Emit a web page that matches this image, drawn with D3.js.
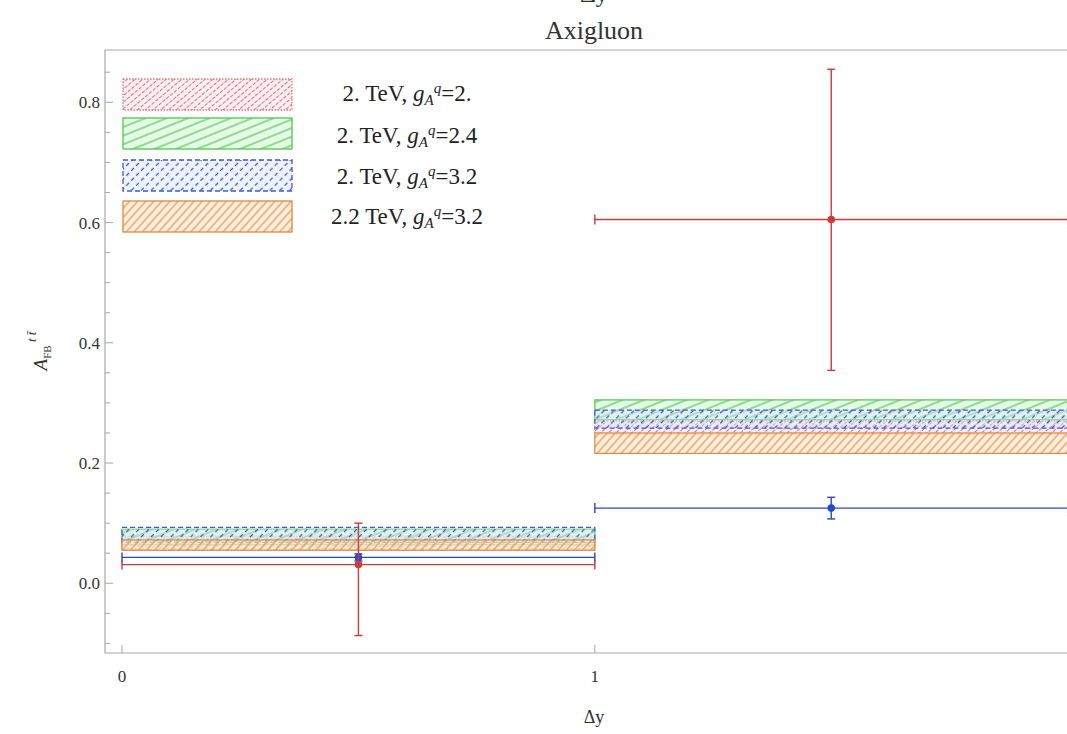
<!DOCTYPE html>
<html><head><meta charset="utf-8">
<script src="https://cdn.jsdelivr.net/npm/d3@7"></script>
<style>
body{margin:0;background:#fff;}
svg text{font-family:"Liberation Serif","Times New Roman","DejaVu Serif",serif;}
</style></head>
<body><svg id="c" width="1067" height="734" font-family="Liberation Serif, serif"></svg>
<script>
// ---- data ----
const binStart = [0, 1];
const binEnd = [1, 2];
const seriesMass = ["2.", "2.", "2.", "2.2"];
const seriesCoupling = ["2.", "2.4", "3.2", "3.2"];
// band low / high values per bin
const pinkLo = [0.055, 0.248];
const pinkHi = [0.078, 0.270];
const greenLo = [0.064, 0.272];
const greenHi = [0.090, 0.305];
const blueLo = [0.068, 0.258];
const blueHi = [0.093, 0.288];
const orangeLo = [0.055, 0.216];
const orangeHi = [0.072, 0.250];
// measured points
const pointX = [0.5, 1.5];
const redY = [0.031, 0.605];
const redLo = [-0.087, 0.354];
const redHi = [0.100, 0.855];
const blueY = [0.043, 0.125];
const blueErrLo = [0.037, 0.107];
const blueErrHi = [0.049, 0.143];
const yTicks = [0.0, 0.2, 0.4, 0.6, 0.8];
const yMinorTicks = [-0.1, -0.05, 0.05, 0.1, 0.15, 0.25, 0.3, 0.35, 0.45, 0.5, 0.55, 0.65, 0.7, 0.75, 0.85];
const xTicks = [0, 1];

// ---- setup ----
const svg = d3.select("#c");
const x = d3.scaleLinear().domain([-0.036, 2.06]).range([105, 1096]);
const y = d3.scaleLinear().domain([-0.116, 0.887]).range([653, 50]);

const defs = svg.append("defs");
function hatch(id, color, bg, spacing, angle, sw, dash) {
  const p = defs.append("pattern").attr("id", id).attr("patternUnits", "userSpaceOnUse")
    .attr("width", spacing).attr("height", spacing)
    .attr("patternTransform", `rotate(${angle})`);
  p.append("rect").attr("width", spacing).attr("height", spacing).attr("fill", bg);
  const l = p.append("line").attr("x1", 0).attr("y1", spacing / 2).attr("x2", spacing).attr("y2", spacing / 2)
    .attr("stroke", color).attr("stroke-width", sw);
  if (dash) l.attr("stroke-dasharray", dash);
}
hatch("hPink", "#d9707a", "rgba(250,225,235,0.55)", 5, -40, 1.1, "2.5,1.5");
hatch("hGreen", "#4ec94e", "rgba(215,245,215,0.6)", 8, -22, 1.2, null);
hatch("hBlue", "#3a5bd0", "rgba(220,228,250,0.45)", 7, -45, 1.3, "4,3");
hatch("hOrange", "#e08a3c", "rgba(252,232,210,0.7)", 6, -48, 1.1, null);

const series = [
  {lo: pinkLo, hi: pinkHi, fill: "url(#hPink)", stroke: "#e07a82", dash: "1.5,1.5"},
  {lo: greenLo, hi: greenHi, fill: "url(#hGreen)", stroke: "#4ec94e", dash: null},
  {lo: blueLo, hi: blueHi, fill: "url(#hBlue)", stroke: "#3a5bd0", dash: "5,3"},
  {lo: orangeLo, hi: orangeHi, fill: "url(#hOrange)", stroke: "#e08a3c", dash: null}
];

// frame
const frameCol = "#a8a8a8";
svg.append("path").attr("d", `M${x(2.06)},${y(0.887)}H${x(-0.036)}V${y(-0.116)}H${x(2.06)}`)
  .attr("fill", "none").attr("stroke", frameCol).attr("stroke-width", 1.2);

// y ticks
yTicks.forEach(t => {
  svg.append("line").attr("x1", x(-0.036)).attr("x2", x(-0.036) + 8).attr("y1", y(t)).attr("y2", y(t))
    .attr("stroke", frameCol);
  svg.append("text").attr("x", 100).attr("y", y(t) + 6).attr("text-anchor", "end")
    .attr("font-size", 17).attr("fill", "#333").text(d3.format(".1f")(t));
});
yMinorTicks.forEach(t => {
  svg.append("line").attr("x1", x(-0.036)).attr("x2", x(-0.036) + 5).attr("y1", y(t)).attr("y2", y(t))
    .attr("stroke", frameCol);
});
xTicks.forEach(t => {
  svg.append("line").attr("x1", x(t)).attr("x2", x(t)).attr("y1", y(-0.116)).attr("y2", y(-0.116) - 8)
    .attr("stroke", frameCol);
  svg.append("text").attr("x", x(t)).attr("y", 682).attr("text-anchor", "middle")
    .attr("font-size", 17).attr("fill", "#333").text(d3.format("d")(t));
});

// bands
series.forEach(s => {
  binStart.forEach((b, i) => {
    svg.append("rect").attr("x", x(b)).attr("width", x(binEnd[i]) - x(b))
      .attr("y", y(s.hi[i])).attr("height", y(s.lo[i]) - y(s.hi[i]))
      .attr("fill", s.fill).attr("stroke", s.stroke).attr("stroke-width", 1.2)
      .attr("stroke-dasharray", s.dash);
  });
});

// error bars
function errPoint(px, py, lo, hi, x0, x1, col) {
  const g = svg.append("g").attr("stroke", col).attr("stroke-width", 1.4);
  g.append("line").attr("x1", x(x0)).attr("x2", x(x1)).attr("y1", y(py)).attr("y2", y(py));
  g.append("line").attr("x1", x(x0)).attr("x2", x(x0)).attr("y1", y(py) - 5).attr("y2", y(py) + 5);
  g.append("line").attr("x1", x(x1)).attr("x2", x(x1)).attr("y1", y(py) - 5).attr("y2", y(py) + 5);
  g.append("line").attr("x1", x(px)).attr("x2", x(px)).attr("y1", y(lo)).attr("y2", y(hi));
  g.append("line").attr("x1", x(px) - 4).attr("x2", x(px) + 4).attr("y1", y(lo)).attr("y2", y(lo));
  g.append("line").attr("x1", x(px) - 4).attr("x2", x(px) + 4).attr("y1", y(hi)).attr("y2", y(hi));
  svg.append("circle").attr("cx", x(px)).attr("cy", y(py)).attr("r", 3.8).attr("fill", col);
}
pointX.forEach((px, i) => {
  errPoint(px, blueY[i], blueErrLo[i], blueErrHi[i], binStart[i], binEnd[i], "#2848c8");
  errPoint(px, redY[i], redLo[i], redHi[i], binStart[i], binEnd[i], "#cc3a3a");
});

// legend
const legTop = [79, 118, 160, 201];
const legBase = [101, 143, 184, 224];
series.forEach((s, i) => {
  svg.append("rect").attr("x", 123).attr("y", legTop[i]).attr("width", 169).attr("height", 31)
    .attr("fill", s.fill).attr("stroke", s.stroke).attr("stroke-width", 1.3).attr("stroke-dasharray", s.dash);
  const t = svg.append("text").attr("x", 407).attr("y", legBase[i]).attr("text-anchor", "middle")
    .attr("font-size", 23).attr("fill", "#222");
  t.append("tspan").text(seriesMass[i] + " TeV, ");
  t.append("tspan").attr("font-style", "italic").text("g");
  t.append("tspan").attr("font-style", "italic").attr("font-size", 15).attr("dy", 4).text("A");
  t.append("tspan").attr("font-style", "italic").attr("font-size", 15).attr("dy", -12).text("q");
  t.append("tspan").attr("dy", 8).text("=" + seriesCoupling[i]);
});

// titles
svg.append("text").attr("x", 594).attr("y", 2).attr("text-anchor", "middle").attr("font-size", 24)
  .attr("fill", "#333").text("Δy");
svg.append("text").attr("x", 594).attr("y", 39).attr("text-anchor", "middle").attr("font-size", 26)
  .attr("fill", "#333").text("Axigluon");
svg.append("text").attr("x", 594).attr("y", 723).attr("text-anchor", "middle").attr("font-size", 18)
  .attr("fill", "#333").text("Δy");
const yl = svg.append("text").attr("transform", "translate(47,351) rotate(-90)").attr("text-anchor", "middle")
  .attr("font-size", 19).attr("fill", "#333");
yl.append("tspan").attr("font-style", "italic").text("A");
yl.append("tspan").attr("font-size", 11).attr("dy", 4).text("FB");
yl.append("tspan").attr("font-style", "italic").attr("font-size", 13).attr("dy", -15).text(" t t̄");
</script></body></html>
